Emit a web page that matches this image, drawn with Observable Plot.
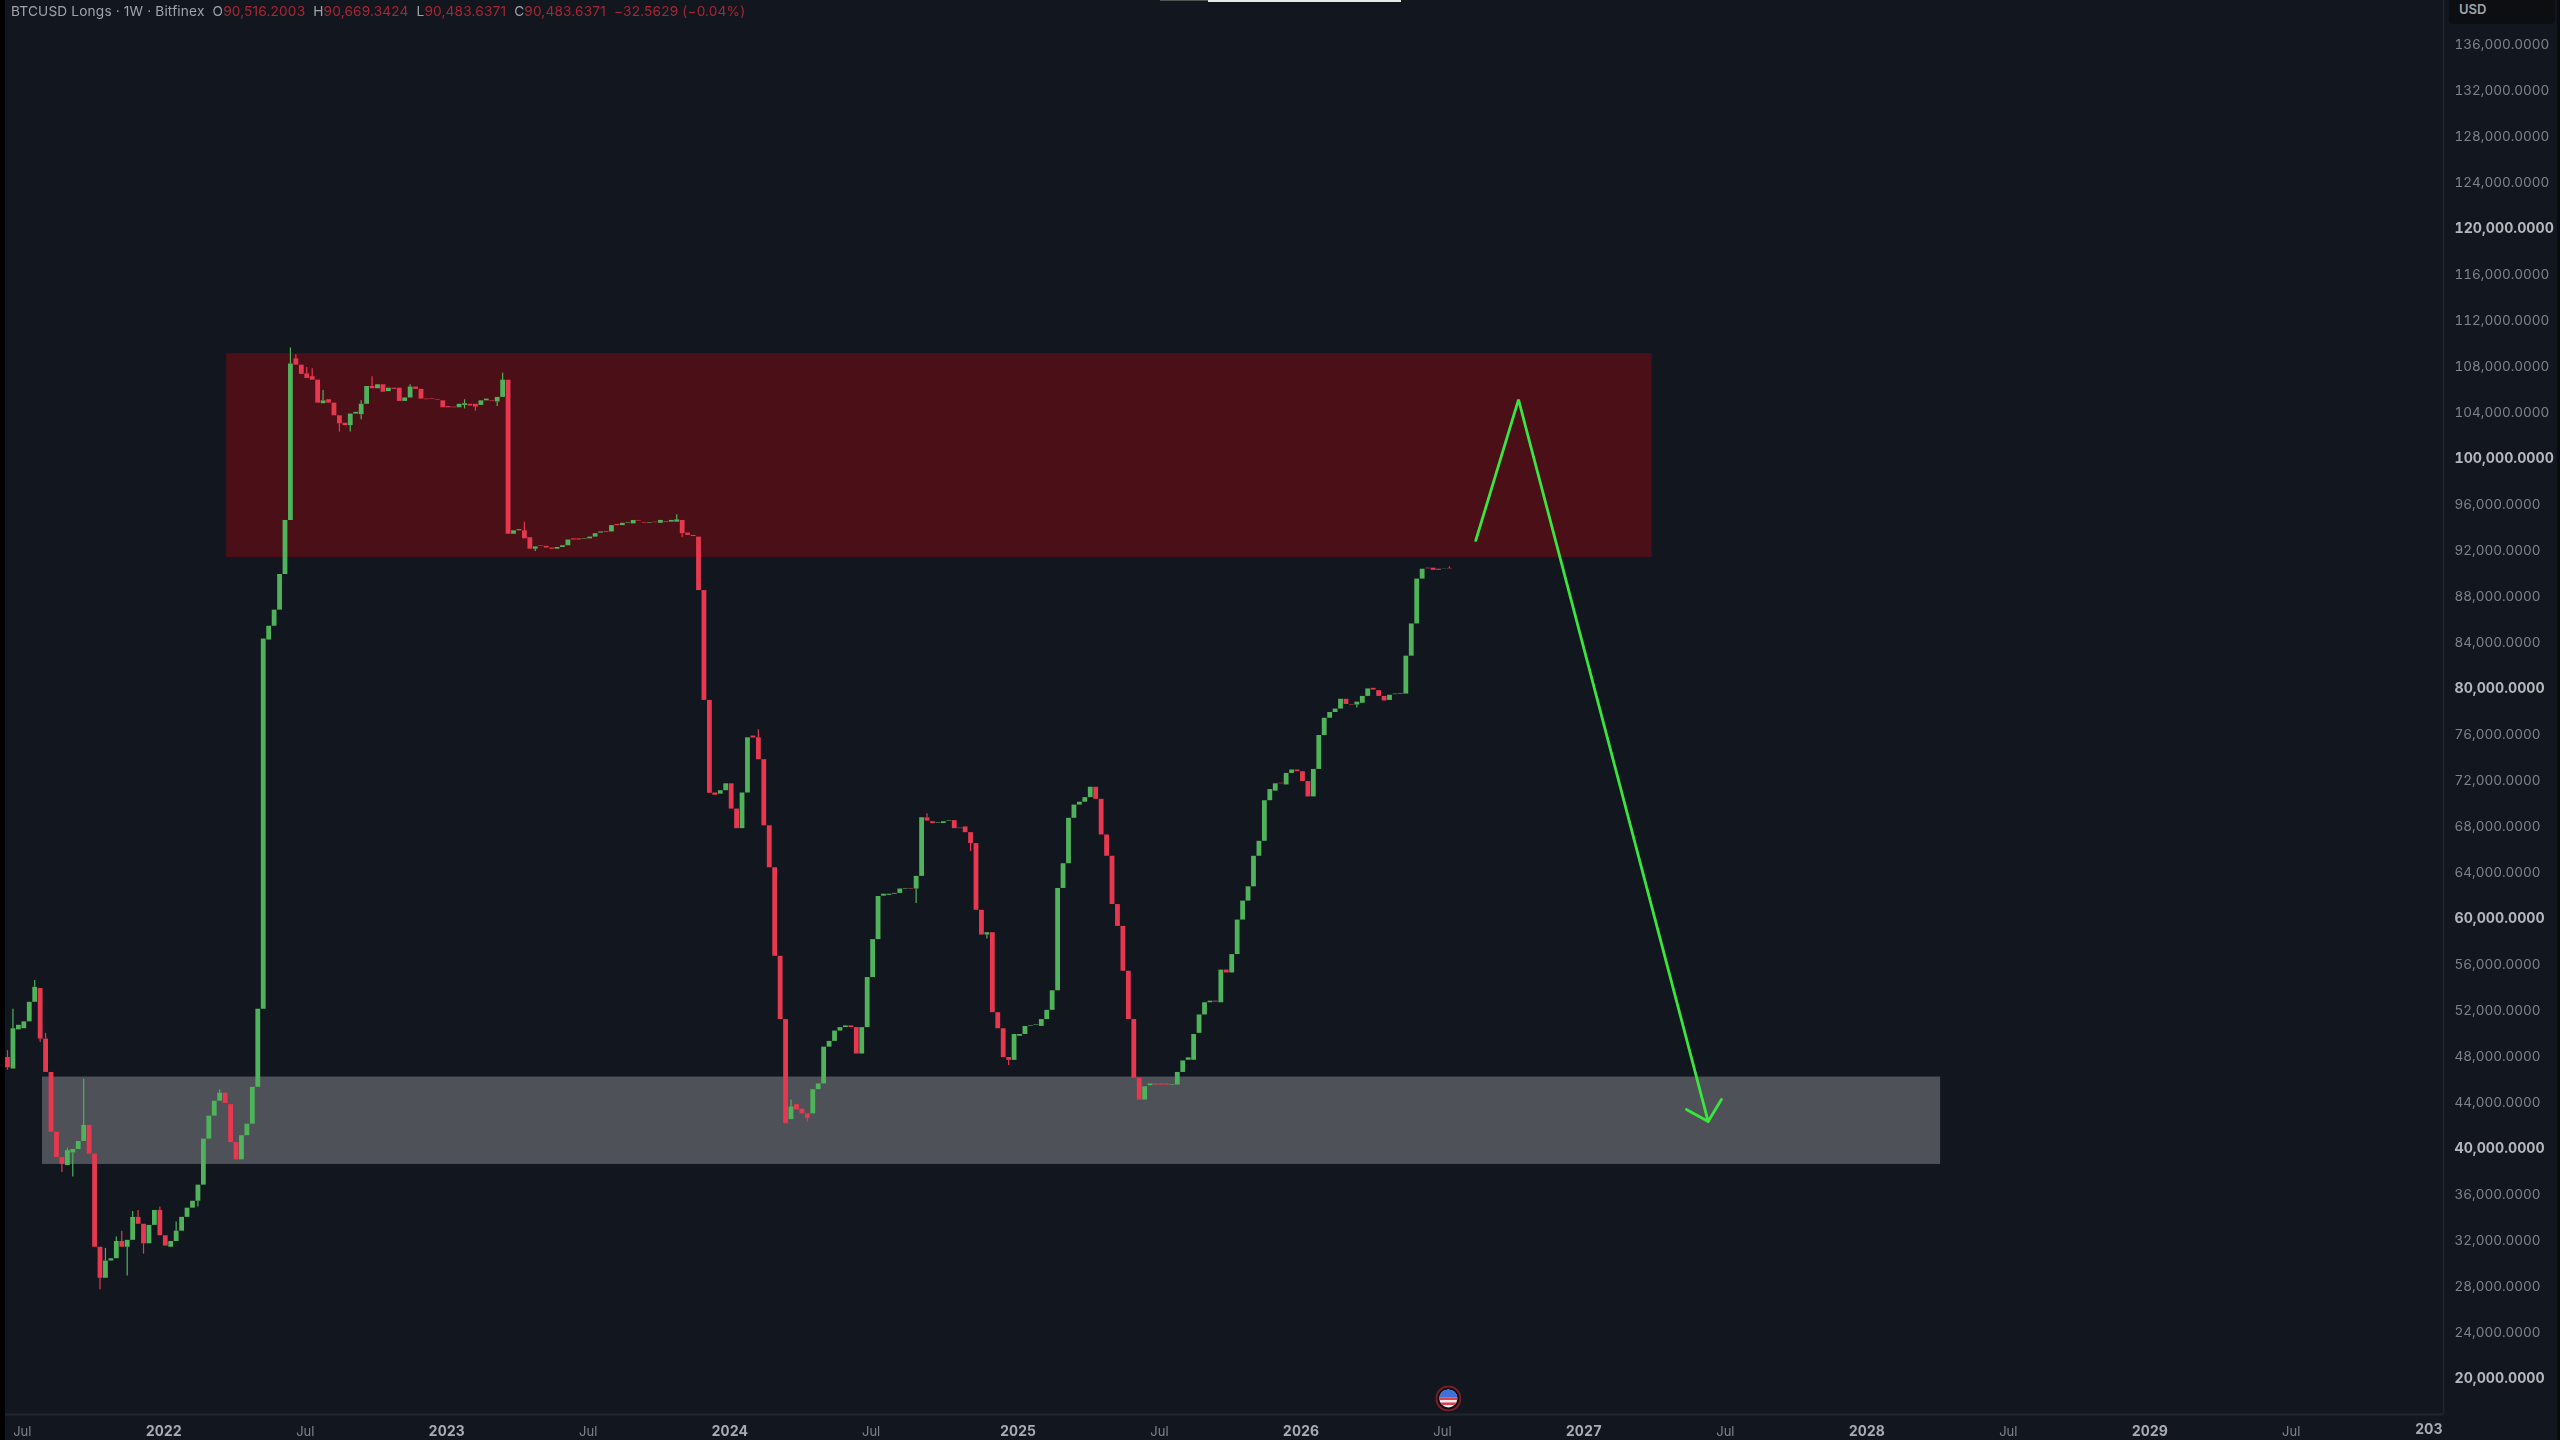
<!DOCTYPE html>
<html>
<head>
<meta charset="utf-8">
<script src="https://cdn.jsdelivr.net/npm/d3@7"></script>
<script src="https://cdn.jsdelivr.net/npm/@observablehq/plot@0.6"></script>
<style>
html,body{margin:0;padding:0;background:#12161f;width:2560px;height:1440px;overflow:hidden}
#wrap{position:relative;width:2560px;height:1440px}
#wrap svg{position:absolute;left:0;top:0;filter:blur(0.55px)}
.ov{position:absolute}
#head{left:11px;top:2px;font:13.7px/18px Inter,sans-serif;color:#a0a3ab;white-space:pre;filter:blur(0.4px);letter-spacing:0.15px}
#head b{font-weight:400;color:#a92632}
#usd{left:2449px;top:0;width:106px;height:24px;background:#0d0e11;border-radius:0 0 4px 4px;color:#a3a5aa;font:600 13px/19px Inter,sans-serif;text-indent:10px}
</style>
</head>
<body>
<div id="wrap"></div>
<script>
// Weekly candles, thousands of USD, first bar in the week of 14 June 2021
const firstWeek = "2021-06-14";
const opens = [
48.0,47.0,50.4,50.5,51.1,52.8,54.0,49.6,46.7,41.5,
39.3,38.6,39.7,40.0,40.7,42.1,39.6,31.5,28.8,30.3,
30.5,32.0,31.5,32.1,34.1,33.5,31.8,33.4,34.7,32.5,
31.5,32.0,32.9,34.1,34.9,35.5,36.9,40.9,42.9,44.2,
44.9,43.9,40.6,39.1,41.2,42.2,45.4,52.2,84.3,85.5,
86.9,90.0,94.7,108.75,108.2,107.45,107.2,106.9,104.85,105.2,
104.9,103.8,103.15,102.95,103.95,103.9,104.8,106.35,106.15,106.5,
105.9,106.2,106.2,105.05,105.35,106.3,106.1,105.25,105.3,105.2,
105.1,104.6,104.55,104.5,104.7,104.8,104.8,104.7,105.1,105.1,
105.0,105.4,106.9,93.5,93.8,93.8,93.2,92.2,92.5,92.45,
92.3,92.2,92.35,92.5,93.1,93.1,93.05,93.1,93.25,93.6,
93.65,93.7,94.35,94.25,94.45,94.4,94.7,94.5,94.45,94.55,
94.45,94.55,94.55,94.55,94.7,93.6,93.4,93.25,88.6,79.05,
71.0,70.9,71.2,71.8,69.6,67.9,71.0,75.95,75.8,73.9,
68.15,64.5,56.8,51.3,42.6,43.9,43.5,43.1,43.1,45.2,
45.7,48.9,49.4,50.3,50.6,50.75,50.6,48.3,50.6,54.95,
58.25,62.03,62.1,62.2,62.27,62.65,62.7,62.65,63.75,68.84,
68.5,68.35,68.35,68.55,68.6,67.95,68.05,67.55,66.6,60.8,
58.65,58.85,51.9,50.5,48.0,47.75,49.85,50.0,50.7,50.8,
50.7,51.3,52.1,53.8,62.7,64.85,68.8,69.95,70.2,70.6,
71.5,70.45,67.35,65.5,61.3,59.4,55.5,51.3,46.2,44.3,
45.55,45.7,45.7,45.7,45.6,45.6,46.7,47.76,47.76,50.1,
51.7,52.76,52.9,52.76,55.6,55.35,56.95,59.95,61.6,62.84,
65.5,66.8,70.33,71.16,71.85,71.7,72.7,73.0,72.85,72.0,
70.66,73.05,76.0,77.5,78.0,78.3,79.15,78.7,78.65,78.8,
79.4,80.1,79.9,79.4,79.05,79.55,79.6,79.6,82.9,85.7,
89.6,90.55,90.55,90.46,90.45,90.516];
const closes = [
47.1,50.5,50.8,51.1,52.8,54.1,49.6,46.7,41.5,39.3,
38.7,39.9,40.0,40.7,42.1,39.6,31.5,28.8,30.3,30.5,
32.0,31.5,32.1,34.1,33.5,31.8,33.4,34.7,32.5,31.6,
32.0,32.9,34.1,34.9,35.5,36.9,40.9,42.9,44.2,44.9,
44.0,40.6,39.1,41.2,42.2,45.4,52.2,84.4,85.5,86.9,
90.0,94.7,108.3,108.2,107.4,107.05,106.9,104.9,105.1,104.9,
103.8,103.1,102.95,103.95,104.1,104.8,106.35,106.15,106.5,105.85,
106.2,106.1,105.05,105.35,106.3,106.1,105.25,105.2,105.25,105.15,
104.5,104.5,104.5,104.8,104.85,104.65,104.55,105.1,105.25,105.05,
105.4,106.9,93.5,93.8,93.9,93.1,92.2,92.4,92.45,92.3,
92.2,92.35,92.5,93.0,93.0,93.0,93.1,93.25,93.55,93.7,
93.7,94.25,94.25,94.45,94.5,94.7,94.65,94.45,94.5,94.5,
94.7,94.6,94.7,94.75,93.55,93.4,93.3,88.6,79.05,70.97,
70.8,71.2,71.8,69.6,67.9,71.0,75.8,75.78,73.9,68.15,
64.5,56.8,51.3,42.25,43.7,43.45,43.1,42.7,45.2,45.7,
48.9,49.4,50.3,50.6,50.75,50.6,48.3,50.6,54.95,58.25,
62.0,62.2,62.2,62.27,62.65,62.7,62.65,63.75,68.85,68.56,
68.35,68.4,68.5,68.6,67.9,67.9,67.55,66.6,60.8,58.65,
58.85,51.9,50.5,48.0,47.75,50.0,50.0,50.7,50.75,50.85,
51.3,52.1,53.8,62.7,64.85,68.8,69.95,70.2,70.6,71.5,
70.45,67.35,65.5,61.3,59.4,55.5,51.3,46.2,44.3,45.45,
45.7,45.6,45.6,45.6,45.65,46.7,47.7,47.97,50.0,51.7,
52.76,52.9,52.82,55.6,55.35,56.95,59.95,61.6,62.84,65.5,
66.8,70.33,71.3,71.8,71.8,72.7,73.0,72.85,72.0,70.66,
73.05,76.0,77.5,78.0,78.3,79.15,78.7,78.65,78.9,79.4,
80.05,79.95,79.4,79.0,79.5,79.6,79.65,82.9,85.7,89.6,
90.46,90.5,90.36,90.36,90.47,90.484];
const wickHighs = [[0,48.6],[1,52.2],[5,54.7],[7,50.1],[11,40.1],[14,46.1],[18,31.4],[20,32.4],[21,32.9],[23,34.6],[24,34.7],[28,35.0],[31,33.7],[39,45.2],[52,109.7],[53,109.1],[55,108.0],[56,107.9],[58,106.0],[65,105.1],[67,107.2],[74,106.5],[84,105.2],[91,107.5],[95,94.55],[123,95.2],[138,76.5],[144,44.3],[169,69.2],[265,90.669]];
const wickLows = [[0,46.9],[6,49.3],[10,38.0],[12,37.6],[17,27.8],[22,29.0],[25,30.9],[35,35.0],[61,102.4],[63,102.4],[65,103.45],[84,104.4],[86,104.2],[90,104.6],[97,92.0],[124,93.2],[147,42.4],[167,61.4],[177,65.9],[180,58.3],[184,47.3],[248,78.4]];

// Zones and drawn path
const redZone = {from:"2022-03-23", to:"2027-03-31", low:91.48, high:109.2};
const grayZone = {from:"2021-07-29", to:"2028-04-05", low:38.7, high:46.3};
const pathDates = ["2026-08-16","2026-10-10","2027-06-11"];
const pathValues = [92.96,105.2,42.43];
const headDates = ["2027-05-14","2027-06-11","2027-06-28"];
const headValues = [43.48,42.43,44.35];

// Axes
const priceMinor = [136,132,128,124,116,112,108,104,96,92,88,84,76,72,68,64,56,52,48,44,36,32,28,24];
const priceMajor = [120,100,80,60,40,20];
const yearTicks = [["2022-01-03","2022"],["2023-01-02","2023"],["2024-01-01","2024"],["2025-01-06","2025"],["2026-01-05","2026"],["2027-01-04","2027"],["2028-01-03","2028"],["2029-01-01","2029"]];
const julyTicks = ["2021-07-05","2022-07-04","2023-07-03","2024-07-01","2025-07-07","2026-07-06","2027-07-05","2028-07-03","2029-07-02"];
const clippedYear = "203";
const priceDomain = [136000,20000];
const paneEnd = "2030-01-12";
const axisFloorPrice = 16960;
const flagPrice = 18350;

const UP="#4fb35b", DOWN="#e8384f", PATH="#3ae63c";
const D=s=>new Date(s+"T00:00:00Z");
const start=D(firstWeek);
const dateOf=k=>new Date(+start+k*7*864e5);
const candles=opens.map((o,k)=>({date:dateOf(k),o:o*1000,c:closes[k]*1000,up:closes[k]>=o}));
const hi=wickHighs.map(([k,v])=>({date:dateOf(k),a:Math.max(opens[k],closes[k])*1000,b:v*1000,up:closes[k]>=opens[k]}));
const lo=wickLows.map(([k,v])=>({date:dateOf(k),a:Math.min(opens[k],closes[k])*1000,b:v*1000,up:closes[k]>=opens[k]}));
const wicks=hi.concat(lo);
const zone=z=>[{x1:D(z.from),x2:D(z.to),y1:z.low*1000,y2:z.high*1000}];
const path=pathDates.map((d,i)=>({x:D(d),y:pathValues[i]*1000}));
const head=headDates.map((d,i)=>({x:D(d),y:headValues[i]*1000}));
const yearMap=new Map(yearTicks.map(([d,t])=>[+D(d),t]));
const fmt=d3.format(",.4f");

const flagSvg=`<svg xmlns="http://www.w3.org/2000/svg" viewBox="0 0 26 26"><defs><clipPath id="c"><circle cx="13" cy="13" r="9"/></clipPath></defs><circle cx="13" cy="13" r="12" fill="#0d1016" stroke="#7d1c26" stroke-width="2"/><g clip-path="url(#c)"><rect width="26" height="26" fill="#e9e9ee"/><rect y="12" width="26" height="2.5" fill="#d8404a"/><rect y="17" width="26" height="2.5" fill="#d8404a"/><rect y="3" width="26" height="9" fill="#3f6fd8"/></g></svg>`;

const chart=Plot.plot({
  width:2560,height:1440,
  marginLeft:0,marginRight:117,marginTop:0,marginBottom:26,
  style:{background:"#12161f",overflow:"hidden"},
  x:{type:"utc",domain:[start,D(paneEnd)],range:[7,2443],axis:null},
  y:{type:"linear",domain:priceDomain,range:[45,1379],axis:null},
  marks:[
    Plot.rect(zone(redZone),{x1:"x1",x2:"x2",y1:"y1",y2:"y2",fill:"#4b0f18"}),
    Plot.rect(zone(grayZone),{x1:"x1",x2:"x2",y1:"y1",y2:"y2",fill:"#4f5158"}),
    Plot.ruleX(wicks,{x:"date",y1:"a",y2:"b",stroke:d=>d.up?UP:DOWN,strokeWidth:1.2}),
    Plot.ruleX(candles,{x:"date",y1:"o",y2:"c",stroke:d=>d.up?UP:DOWN,strokeWidth:4.8}),
    Plot.line(path,{x:"x",y:"y",stroke:PATH,strokeWidth:2.8,strokeLinejoin:"miter"}),
    Plot.line(head,{x:"x",y:"y",stroke:PATH,strokeWidth:2.8,strokeLinecap:"round",strokeLinejoin:"round"}),
    Plot.ruleY([axisFloorPrice],{stroke:"#22262f",strokeWidth:2}),
    Plot.ruleX([D(paneEnd)],{stroke:"#22262f",strokeWidth:1.5}),
    Plot.image([{x:dateOf(265),y:flagPrice}],{x:"x",y:"y",width:26,height:26,dx:-1,src:()=>"data:image/svg+xml,"+encodeURIComponent(flagSvg)}),
    Plot.axisY(priceMinor.map(v=>v*1000),{anchor:"right",tickSize:0,tickPadding:11,dy:-0.8,tickFormat:fmt,label:null,fontSize:13.5,fontFamily:"Inter, sans-serif",fill:"#7f828b"}),
    Plot.axisY(priceMajor.map(v=>v*1000),{anchor:"right",tickSize:0,tickPadding:11,dy:-0.8,tickFormat:fmt,label:null,fontSize:14.2,fontWeight:700,fontFamily:"Inter, sans-serif",fill:"#b4b6bb"}),
    Plot.axisX(julyTicks.map(D),{anchor:"bottom",tickSize:0,tickPadding:12,dx:-1.5,tickFormat:()=>"Jul",label:null,fontSize:13,fontFamily:"Inter, sans-serif",fill:"#7f828b"}),
    Plot.axisX(yearTicks.map(([d])=>D(d)),{anchor:"bottom",tickSize:0,tickPadding:12,dx:-1.5,tickFormat:d=>yearMap.get(+d),label:null,fontSize:14,fontWeight:700,fontFamily:"Inter, sans-serif",fill:"#a9abb1"}),
    Plot.text([clippedYear],{x:()=>D(paneEnd),frameAnchor:"bottom",dy:19,dx:-1,textAnchor:"end",fontSize:14,fontWeight:700,fontFamily:"Inter, sans-serif",fill:"#a9abb1",text:d=>d})
  ]
});
const wrap=document.getElementById("wrap");
wrap.appendChild(chart);
function ov(id,css,html){const e=document.createElement("div");e.className="ov";if(id)e.id=id;e.style.cssText=css||"";if(html)e.innerHTML=html;wrap.appendChild(e)}
ov("",`left:0;top:0;width:5px;height:1440px;background:#000`);
ov("",`left:2557px;top:0;width:3px;height:1440px;background:#0a0b0e`);
ov("",`left:1160px;top:0;width:48px;height:1px;background:#555`);
ov("",`left:1208px;top:0;width:193px;height:1.5px;background:#e8e8e8`);
ov("head","","BTCUSD Longs · 1W · Bitfinex  O<b>90,516.2003</b>  H<b>90,669.3424</b>  L<b>90,483.6371</b>  C<b>90,483.6371</b>  <b>−32.5629 (−0.04%)</b>");
ov("usd","","USD");
</script>
</body>
</html>
